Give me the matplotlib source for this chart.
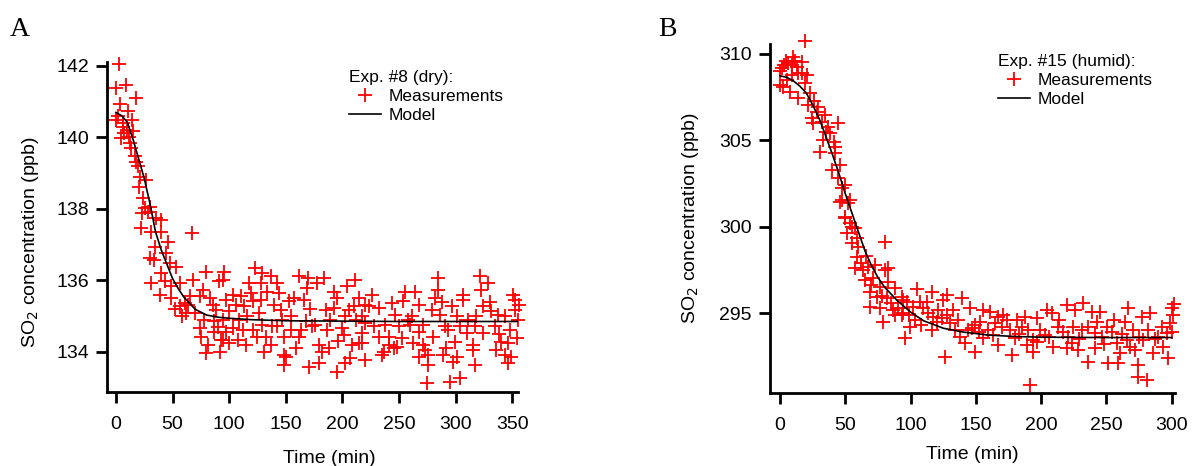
import matplotlib
matplotlib.use("Agg")
import matplotlib.pyplot as plt
from matplotlib.lines import Line2D

plt.rcParams['font.family'] = ['Liberation Sans', 'DejaVu Sans']

# Panel A: Exp. #8 (dry) -- (time min, SO2 ppb)
a_points = [
    (2.6, 142.05), (0, 141.38), (8.8, 141.45), (17.3, 141.08), (3.5, 140.93), (10.8, 140.72),
    (0, 140.49), (14.6, 140.49), (5.9, 140.29), (7, 140.12), (4.1, 139.98), (15.1, 140.16),
    (12.3, 139.84), (16.7, 139.46), (19.6, 139.18), (26.9, 138.81), (20.5, 138.62), (25.5, 138.02),
    (23.4, 137.88), (29.9, 138.06), (35.7, 137.74), (40, 137.69), (22.5, 137.46), (31.3, 137.36),
    (40.2, 137.36), (67.3, 137.32), (1.5, 140.6), (6.5, 140.4), (9.5, 140.2), (11.5, 140.0),
    (13, 139.7), (18, 139.3), (21.5, 138.9), (24, 138.3), (28, 137.9),
    (34.3, 136.94), (45.9, 137.08), (29.9, 136.62), (34, 136.56), (44.5, 136.76), (47.5, 136.48),
    (53.2, 136.38), (40.1, 136.2), (31.4, 135.92), (43, 135.97), (38.7, 135.59), (48.8, 135.83),
    (48.8, 135.5), (56.2, 135.92), (67.9, 136.01), (79.6, 136.24), (56.2, 135.28), (60.6, 135.37),
    (65, 135.56), (62, 135.08), (73.8, 135.56), (76.6, 135.73), (85.4, 135.31), (88.4, 135.17),
    (73.8, 134.66), (75.3, 134.43), (87, 134.85), (87, 134.57), (81, 134.2), (94.2, 134.34),
    (97.2, 134.57), (79.6, 133.96), (95.8, 136.24), (91.4, 135.97), (97.2, 135.45),
    (52, 135.2), (58, 135.0), (64, 135.3), (70, 135.1), (78, 134.9), (83, 135.5), (90, 134.7), (92, 134.0),
    (94.2, 136.01), (123, 136.34), (129.4, 136.2), (136.8, 136.11), (117.8, 135.92), (128, 135.92),
    (142.6, 135.92), (133.7, 135.68), (144.1, 135.64), (119.2, 135.64), (103, 135.59), (110.4, 135.55),
    (106, 135.31), (113.4, 135.27), (120.6, 135.41), (128, 135.45), (100.2, 135.13), (145.5, 135.17),
    (152.9, 135.41), (157.3, 135.5), (166, 135.45), (161.7, 136.11), (169.8, 136.06), (177.8, 135.92),
    (183.7, 136.06), (168.9, 135.78), (192.4, 135.68), (195.3, 135.5), (204, 135.83), (211.4, 136.01),
    (214.4, 135.5), (185.1, 135.17), (192.4, 135.22), (205.6, 135.17), (210, 135.27), (220.2, 135.31),
    (202.6, 135.0), (217.3, 135.0),
    (92.8, 134.34), (100.2, 134.24), (107.4, 134.34), (114.8, 134.2), (103, 134.66), (111.8, 134.62),
    (120.6, 134.62), (125, 134.43), (132.4, 134.43), (136.8, 134.2), (130.9, 134.01), (142.6, 134.71),
    (148.5, 134.43), (154.3, 134.62), (148.5, 133.92), (150, 133.87), (148.5, 133.64), (158.7, 134.1),
    (161.7, 134.43), (170.5, 133.59), (179.3, 133.69), (173.3, 134.71), (179.3, 134.2), (182.1, 134.01),
    (188, 134.1), (186.6, 134.62), (195.3, 133.45), (201.2, 134.48), (199.7, 134.66), (208.5, 134.2),
    (214.4, 134.24), (202.6, 133.69), (207, 133.83), (220.2, 133.78), (176.2, 134.76), (167.5, 134.85),
    (129.4, 134.76), (138, 134.71), (94.2, 134.9),
    (109, 134.9), (116, 135.0), (126, 135.1), (140, 135.3), (147, 134.9), (155, 135.0), (163, 134.6),
    (171, 135.2), (189, 134.9), (196, 134.3), (212, 134.9),
    (284.7, 136.06), (321.3, 136.11), (328.6, 135.92), (322.8, 135.73), (255.4, 135.68), (264.2, 135.68),
    (284.7, 135.73), (281.7, 135.5), (306.7, 135.59), (306.7, 135.45), (350.6, 135.59), (352, 135.45),
    (253.9, 135.41), (243.7, 135.37), (223.2, 135.27), (232, 135.22), (278.8, 135.17), (296.4, 135.27),
    (324.3, 135.27), (331.5, 135.13), (352, 135.17), (337.4, 135.03), (343.2, 135.0), (246.6, 135.03),
    (261.2, 135.0), (286.2, 135.03), (300.9, 135.0), (311, 134.9),
    (220.2, 134.8), (227.6, 134.71), (237.9, 134.76), (249.6, 134.71), (259.8, 134.76), (271.5, 134.76),
    (290.5, 134.71), (303.7, 134.71), (316.9, 134.71), (334.4, 134.71), (217.3, 134.52), (232, 134.43),
    (240.8, 134.43), (252.5, 134.38), (267.2, 134.57), (280.3, 134.43), (293.5, 134.62), (309.6, 134.52),
    (324.3, 134.52), (347.6, 134.62), (217.3, 134.24), (240.8, 134.2), (248.1, 134.15), (262.7, 134.24),
    (271.5, 134.2), (299.3, 134.29), (315.5, 134.2), (340.3, 134.29), (346.1, 134.24), (236.4, 134.01),
    (245.2, 134.1), (272.9, 134.06), (291.9, 134.1), (315.5, 134.06), (335.9, 134.06), (343.2, 133.92),
    (234.9, 133.92), (267.2, 133.87), (275.9, 133.92), (289.1, 133.92), (300.9, 133.87), (349.1, 133.87),
    (275.9, 133.64), (297.9, 133.73), (316.9, 133.64), (346.2, 133.69), (274.4, 133.12), (294.9, 133.17),
    (303.7, 133.26),
    (226, 135.6), (258, 134.9), (268, 135.3), (288, 135.4), (318, 135.0), (330, 135.4), (338, 134.5),
    (355, 134.9), (356, 135.3), (354, 134.4),
]
a_model_t = [0, 5, 10, 15, 20, 25, 30, 35, 40, 45, 50, 55, 60, 70, 80, 90, 100, 120, 150, 200, 250, 300, 356]
a_model_y = [140.69, 140.6, 140.42, 139.95, 139.4, 138.85, 138.15, 137.35, 136.85, 136.45, 136.05, 135.77,
             135.53, 135.19, 135.03, 134.97, 134.94, 134.9, 134.87, 134.86, 134.85, 134.85, 134.85]

# Panel B: Exp. #15 (humid)
b_points = [
    (19.1, 310.75), (0, 309.03), (3, 309.36), (6.4, 309.46), (10.2, 309.84), (8.9, 309.36),
    (12.8, 309.27), (16.6, 309.55), (14, 308.88), (20.4, 308.78), (19.1, 308.3), (0, 308.2),
    (2.5, 308.1), (7.7, 307.82), (14, 307.43), (23, 307.72), (21.7, 307.05), (29.4, 306.95),
    (28.1, 306.66), (24.3, 306.28), (34.5, 306.47), (31.9, 306.08), (25.5, 305.99), (37, 305.79),
    (44.7, 305.99), (38.3, 305.41), (33.2, 305.02), (42.1, 304.63), (30.6, 304.34), (42.1, 304.25),
    (45.9, 303.57), (39.6, 303.28), (47.2, 302.22), (47.2, 301.55), (53.6, 301.55), (49.8, 300.58),
    (53.6, 300.2), (57.4, 299.91),
    (1.5, 309.2), (4.5, 309.6), (11.5, 309.6), (5, 308.5), (9, 308.8), (17, 308.9), (26, 307.3),
    (35, 305.5), (41, 304.9), (44, 302.8), (50, 302.4),
    (45.9, 301.45), (52.3, 301.35), (49.8, 300.49), (54.9, 300.0), (51.1, 299.62), (58.7, 299.33),
    (54.9, 299.04), (60, 298.84), (58.7, 298.26), (80.4, 299.13), (57.4, 297.59), (63.8, 297.49),
    (67.7, 297.68), (72.7, 297.78), (80.4, 297.49), (82.9, 297.59), (65.1, 296.91), (71.4, 297.01),
    (76.6, 296.53), (82.9, 296.82), (88.1, 296.43), (68.9, 296.24), (74, 295.95), (81.7, 295.85),
    (68.9, 295.37), (76.6, 295.27), (86.8, 295.18), (90.7, 295.27), (94.5, 295.76), (93.2, 294.89),
    (79.1, 294.5), (95.7, 293.54), (88.1, 294.89),
    (62, 297.9), (66, 298.3), (70, 296.6), (78, 296.0), (85, 295.6),
    (104.7, 296.37), (116.2, 296.24), (127.6, 296.05), (125, 295.76), (139.1, 295.85), (145.5, 295.27),
    (132.7, 295.18), (93.2, 295.95), (97, 295.66), (102.1, 295.37), (107.2, 295.66), (112.3, 295.66),
    (109.7, 295.27), (94.5, 294.99), (99, 294.9), (103.4, 294.6), (99.5, 294.21), (117.4, 294.79),
    (120, 294.5), (116.2, 294.02), (123.8, 294.7), (130.2, 294.41), (134, 294.02), (137.8, 293.63),
    (141.7, 293.25), (126.3, 292.47), (146.8, 294.12), (149.3, 294.31), (153.1, 294.5), (155.7, 295.18),
    (160.8, 295.08), (167.1, 294.79), (171, 294.89), (173.6, 294.6), (159.6, 294.02), (155.7, 293.54),
    (149.3, 292.76), (167.1, 293.15), (176.1, 294.02), (179.9, 293.54), (177.4, 292.57), (181.2, 294.6),
    (187.6, 294.79), (185, 294.21), (190.1, 294.02), (188.9, 293.15), (194, 292.76), (196.6, 294.7),
    (191.4, 290.83), (196.6, 293.34), (164.6, 294.41),
    (108, 294.3), (113, 295.0), (121, 295.2), (128, 294.9), (136, 294.6), (144, 294.0), (152, 293.9),
    (163, 293.7), (170, 294.2), (183, 293.8),
    (204.2, 295.18), (208, 294.99), (219.5, 295.47), (232.3, 295.57), (225.9, 295.18), (238.7, 295.08),
    (245, 295.08), (266.7, 295.27), (276.9, 294.79), (283.3, 294.99), (299.9, 295.27), (301.2, 294.89),
    (199.1, 294.02), (194, 293.44), (202.9, 293.73), (209.3, 293.05), (213.1, 294.21), (216.9, 293.92),
    (220.8, 293.63), (223.3, 293.25), (219.5, 292.96), (228.4, 292.86), (224.6, 294.21), (231, 294.02),
    (236.1, 294.21), (241.3, 293.83), (236.1, 292.18), (241.3, 292.96), (246.4, 293.63), (250.2, 294.21),
    (254, 293.92), (257.9, 293.25), (251.4, 292.09), (259, 292.09), (260.3, 292.67), (265.4, 293.44),
    (267.9, 293.05), (264.2, 294.5), (271.8, 292.86), (274.4, 291.99), (274.4, 291.31), (280.8, 291.12),
    (278.2, 293.44), (282, 294.02), (285.8, 292.67), (289.7, 293.63), (292.2, 294.21), (293.5, 293.05),
    (296.1, 293.83), (297.4, 292.38), (298.6, 294.41),
    (206, 293.6), (214, 294.6), (229, 293.5), (243, 294.5), (248, 293.2), (256, 294.6), (262, 293.8),
    (270, 294.0), (275, 293.6), (287, 293.5), (300, 293.9), (302, 295.5),
]
b_model_t = [0, 5, 10, 15, 20, 25, 30, 35, 40, 45, 50, 55, 60, 65, 70, 75, 80, 90, 100, 110, 125, 140,
             160, 180, 200, 250, 300]
b_model_y = [308.73, 308.65, 308.45, 308.15, 307.75, 307.05, 306.25, 305.25, 304.2, 303.1, 301.9, 300.8,
             299.7, 298.6, 297.75, 297.05, 296.5, 295.7, 295.05, 294.55, 294.12, 293.9, 293.72, 293.64,
             293.6, 293.58, 293.58]

a_xticks = [0, 50, 100, 150, 200, 250, 300, 350]
a_yticks = [134, 136, 138, 140, 142]
b_xticks = [0, 50, 100, 150, 200, 250, 300]
b_yticks = [295, 300, 305, 310]

FS = 14
LFS = 12.5
fig = plt.figure(figsize=(11.94, 4.66), dpi=100)
axA = fig.add_axes([0.0896, 0.1588, 0.3442, 0.7082])
axB = fig.add_axes([0.6449, 0.1567, 0.3392, 0.749])


def style_axes(ax):
    for side in ("top", "right"):
        ax.spines[side].set_visible(False)
    for side in ("left", "bottom"):
        ax.spines[side].set_linewidth(2.0)
    ax.tick_params(direction="out", length=8, width=2.0, labelsize=FS)
    ax.tick_params(axis="x", pad=9)
    ax.tick_params(axis="y", pad=5)
    ax.set_xlabel("Time (min)", fontsize=FS, labelpad=9)
    ax.set_ylabel("SO$_2$ concentration (ppb)", fontsize=FS, labelpad=13)


for ax, pts, mt, my, xt, yt, lim_x, lim_y in [
    (axA, a_points, a_model_t, a_model_y, a_xticks, a_yticks, (-7.9, 355), (132.88, 142.1)),
    (axB, b_points, b_model_t, b_model_y, b_xticks, b_yticks, (-7.7, 302.5), (290.37, 310.58)),
]:
    t = [p[0] for p in pts]
    y = [p[1] for p in pts]
    ax.plot(t, y, linestyle="none", marker="+", color="#ff0000", markersize=10,
            markeredgewidth=1.3, clip_on=False, zorder=2)
    ax.plot(mt, my, color="black", linewidth=1.2, zorder=3)
    ax.set_xlim(*lim_x)
    ax.set_ylim(*lim_y)
    ax.set_xticks(xt)
    ax.set_yticks(yt)
    style_axes(ax)

# panel A labels sit a bit off-centre in the original
axA.xaxis.set_label_coords(0.54, -0.175)
axA.yaxis.set_label_coords(-0.16, 0.455)

handles = [
    Line2D([], [], linestyle="none", marker="+", color="#ff0000", markersize=10, markeredgewidth=1.3),
    Line2D([], [], color="black", linewidth=1.2),
]
labels = ["Measurements", "Model"]

leg_kw = dict(loc="upper left", bbox_transform=fig.transFigure, frameon=False, fontsize=LFS,
              title_fontsize=LFS, alignment="left", handlelength=1.8, handletextpad=0.45,
              labelspacing=0.22, borderpad=0.2, borderaxespad=0)
axA.legend(handles, labels, title="Exp. #8 (dry):", bbox_to_anchor=(346 / 1194, 1 - 67 / 466), **leg_kw)
axB.legend(handles, labels, title="Exp. #15 (humid):", bbox_to_anchor=(995 / 1194, 1 - 51 / 466), **leg_kw)

fig.text(10 / 1194, 1 - 30 / 466, "A", fontsize=20, family="Liberation Serif", va="center")
fig.text(658 / 1194, 1 - 30 / 466, "B", fontsize=20, family="Liberation Serif", va="center")

fig.savefig("out.png", dpi=100)
